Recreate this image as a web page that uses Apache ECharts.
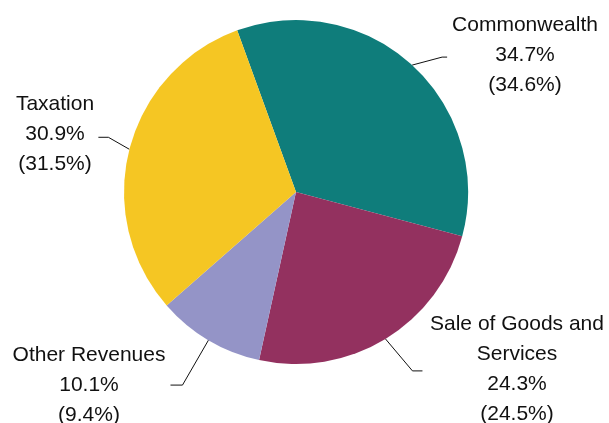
<!DOCTYPE html>
<html>
<head>
<meta charset="utf-8">
<script src="https://cdn.jsdelivr.net/npm/echarts@6/dist/echarts.min.js"></script>
<style>
  html, body { margin: 0; padding: 0; background: #fff; }
  #chart { width: 609px; height: 423px; }
</style>
</head>
<body>
<div id="chart"></div>
<script>
// data
const categories = ['Commonwealth', 'Sale of Goods and\nServices', 'Other Revenues', 'Taxation']
const shareNow = [34.7, 24.3, 10.1, 30.9]
const sharePrev = [34.6, 24.5, 9.4, 31.5]

// style
const colors = ['#0F7D7B', '#93315F', '#9494C7', '#F5C623']
// label block centre, leader elbow offset from slice edge, horizontal tail
const labelCentre = [[525, 55], [517, 369], [89, 385], [55, 134]]
const elbowOffset = [[30, -8], [27, 32], [-26, 45], [-21, -12]]
const tailLen = [5, 10, -12, -10]

const chart = echarts.init(document.getElementById('chart'), null, { renderer: 'canvas' })

const option = {
  animation: false,
  backgroundColor: '#ffffff',
  series: [
    {
      type: 'pie',
      center: [296, 192],
      radius: 172,
      startAngle: 110,
      clockwise: true,
      avoidLabelOverlap: false,
      data: categories.map((name, i) => ({
        name,
        value: shareNow[i],
        itemStyle: { color: colors[i] }
      })),
      itemStyle: { borderWidth: 0 },
      label: {
        show: true,
        position: 'outside',
        fontFamily: 'Liberation Sans, Arial, sans-serif',
        fontSize: 21,
        lineHeight: 30,
        color: '#111',
        formatter: p => p.name + '\n' + shareNow[p.dataIndex].toFixed(1) + '%\n(' + sharePrev[p.dataIndex].toFixed(1) + '%)'
      },
      labelLine: {
        show: true,
        length: 20,
        length2: 8,
        lineStyle: { color: '#111', width: 1 }
      },
      emphasis: { disabled: true },
      labelLayout: params => {
        const i = params.dataIndex
        const edge = params.labelLinePoints[0]
        const elbow = [edge[0] + elbowOffset[i][0], edge[1] + elbowOffset[i][1]]
        const end = [elbow[0] + tailLen[i], elbow[1]]
        return {
          x: labelCentre[i][0],
          y: labelCentre[i][1],
          align: 'center',
          verticalAlign: 'middle',
          labelLinePoints: [edge, elbow, end]
        }
      }
    }
  ]
}

chart.setOption(option)
</script>
</body>
</html>
